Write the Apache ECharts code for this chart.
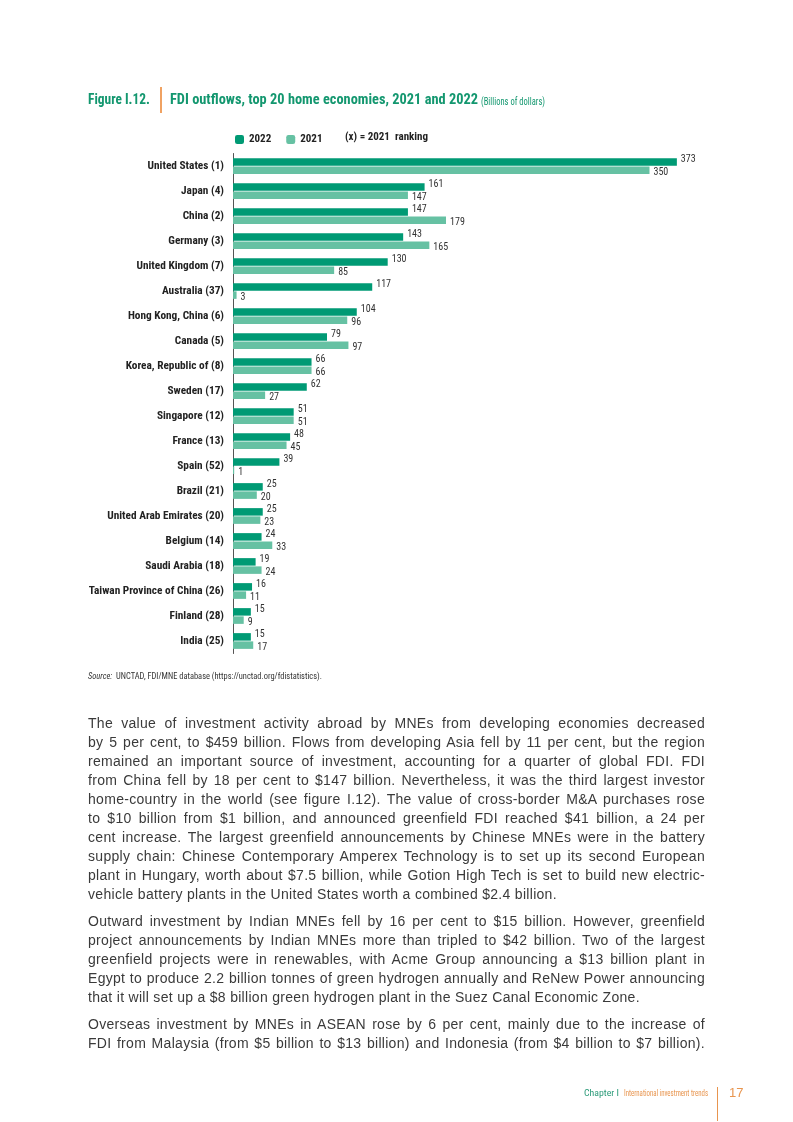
<!DOCTYPE html>
<html>
<head>
<meta charset="utf-8">
<script src="https://cdn.jsdelivr.net/npm/echarts@6/dist/echarts.min.js"></script>
<style>
  html, body { margin: 0; padding: 0; background: #fff; }
  body { width: 793px; height: 1122px; position: relative; overflow: hidden; }
  #chart { position: absolute; left: 0; top: 0; width: 793px; height: 1122px; }
  .narrow { font-family: 'Roboto Condensed', 'Roboto', sans-serif; }
  .abs { position: absolute; white-space: nowrap; transform-origin: 0 50%; }
  #title1 { left: 88px; top: 90px; font-size: 15.5px; font-weight: bold; color: #13976f; }
  #tline { left: 160px; top: 87px; width: 2px; height: 26px; background: #f0a262; }
  #title2 { left: 170px; top: 90px; font-size: 15.5px; font-weight: bold; color: #13976f; }
  #title3 { left: 481px; top: 94px; font-size: 11.5px; color: #13976f; }
  #source { left: 88px; top: 671px; font-size: 9px; color: #333; }
  #body { position: absolute; left: 88px; top: 714px; width: 617px; font-family: 'Liberation Sans', Arial, sans-serif; font-size: 14px; color: #3a3a3a; }
  .ln { height: 19px; line-height: 19px; text-align: justify; text-align-last: justify; white-space: nowrap; }
  .ln.last { text-align-last: left; }
  .para { margin-bottom: 8px; }
  #foot1 { left: 584px; top: 1088px; font-size: 9px; color: #2a9a78; }
  #foot2 { left: 624px; top: 1088px; font-size: 9px; color: #e8954f; }
  #fline { left: 717px; top: 1087px; width: 1px; height: 34px; background: #e8954f; }
  #pnum { left: 729px; top: 1085px; font-size: 13px; color: #e8954f; font-family: 'Liberation Sans', Arial, sans-serif; }
</style>
</head>
<body>
<div id="chart"></div>
<div id="title1" class="abs narrow" data-w="62">Figure I.12.</div>
<div id="tline" class="abs"></div>
<div id="title2" class="abs narrow" data-w="308">FDI outflows, top 20 home economies, 2021 and 2022</div>
<div id="title3" class="abs narrow" data-w="64">(Billions of dollars)</div>
<div id="source" class="abs narrow" data-w="234"><i>Source:</i>&nbsp; UNCTAD, FDI/MNE database (https://unctad.org/fdistatistics).</div>
<div id="body">
  <div class="para">
    <div class="ln">The value of investment activity abroad by MNEs from developing economies decreased</div>
    <div class="ln">by 5 per cent, to $459 billion. Flows from developing Asia fell by 11 per cent, but the region</div>
    <div class="ln">remained an important source of investment, accounting for a quarter of global FDI. FDI</div>
    <div class="ln">from China fell by 18 per cent to $147 billion. Nevertheless, it was the third largest investor</div>
    <div class="ln">home-country in the world (see figure I.12). The value of cross-border M&amp;A purchases rose</div>
    <div class="ln">to $10 billion from $1 billion, and announced greenfield FDI reached $41 billion, a 24 per</div>
    <div class="ln">cent increase. The largest greenfield announcements by Chinese MNEs were in the battery</div>
    <div class="ln">supply chain: Chinese Contemporary Amperex Technology is to set up its second European</div>
    <div class="ln">plant in Hungary, worth about $7.5 billion, while Gotion High Tech is set to build new electric-</div>
    <div class="ln last">vehicle battery plants in the United States worth a combined $2.4 billion.</div>
  </div>
  <div class="para">
    <div class="ln">Outward investment by Indian MNEs fell by 16 per cent to $15 billion. However, greenfield</div>
    <div class="ln">project announcements by Indian MNEs more than tripled to $42 billion. Two of the largest</div>
    <div class="ln">greenfield projects were in renewables, with Acme Group announcing a $13 billion plant in</div>
    <div class="ln">Egypt to produce 2.2 billion tonnes of green hydrogen annually and ReNew Power announcing</div>
    <div class="ln last">that it will set up a $8 billion green hydrogen plant in the Suez Canal Economic Zone.</div>
  </div>
  <div class="para">
    <div class="ln">Overseas investment by MNEs in ASEAN rose by 6 per cent, mainly due to the increase of</div>
    <div class="ln">FDI from Malaysia (from $5 billion to $13 billion) and Indonesia (from $4 billion to $7 billion).</div>
  </div>
</div>
<div id="foot1" class="abs narrow" data-w="35">Chapter I</div>
<div id="foot2" class="abs narrow" data-w="84">International investment trends</div>
<div id="fline" class="abs"></div>
<div id="pnum" class="abs">17</div>
<script>
// fit narrow HTML texts to their measured reference widths
document.querySelectorAll('[data-w]').forEach(function (el) {
  const w = el.getBoundingClientRect().width;
  const target = parseFloat(el.getAttribute('data-w'));
  if (w > 0) el.style.transform = 'scaleX(' + (target / w) + ')';
});
// letter-spacing so that the widest justified line is only slightly stretched
(function () {
  const ctx = document.createElement('canvas').getContext('2d');
  ctx.font = "14px 'Liberation Sans'";
  let best = 0, bestLen = 1;
  document.querySelectorAll('.ln').forEach(function (el) {
    if (el.classList.contains('last')) return;
    const t = el.textContent;
    const w = ctx.measureText(t).width;
    if (w > best) { best = w; bestLen = t.length; }
  });
  const ls = Math.max(0, (612 - best) / bestLen);
  document.getElementById('body').style.letterSpacing = ls.toFixed(3) + 'px';
})();

const categories = [
  'United States (1)', 'Japan (4)', 'China (2)', 'Germany (3)', 'United Kingdom (7)',
  'Australia (37)', 'Hong Kong, China (6)', 'Canada (5)', 'Korea, Republic of (8)', 'Sweden (17)',
  'Singapore (12)', 'France (13)', 'Spain (52)', 'Brazil (21)', 'United Arab Emirates (20)',
  'Belgium (14)', 'Saudi Arabia (18)', 'Taiwan Province of China (26)', 'Finland (28)', 'India (25)'
];
const values2022 = [373, 161, 147, 143, 130, 117, 104, 79, 66, 62, 51, 48, 39, 25, 25, 24, 19, 16, 15, 15];
const values2021 = [350, 147, 179, 165, 85, 3, 96, 97, 66, 27, 51, 45, 1, 20, 23, 33, 24, 11, 9, 17];
const seriesNames = ['2022', '2021'];
const rankingNote = '(x) = 2021  ranking';

const NARROW = "'Roboto Condensed', Roboto, sans-serif";
const C2022 = '#009a74';
const C2021 = '#66c1a3';

const chart = echarts.init(document.getElementById('chart'), null, { renderer: 'canvas', devicePixelRatio: 1 });
chart.setOption({
  animation: false,
  backgroundColor: 'transparent',
  grid: { left: 233, top: 153.5, height: 500, width: 476, containLabel: false },
  legend: {
    data: seriesNames,
    left: 235, top: 134, padding: 0,
    itemWidth: 9, itemHeight: 9, itemGap: 15,
    icon: 'roundRect',
    textStyle: { fontFamily: NARROW, fontSize: 11, fontWeight: 'bold', color: '#222' }
  },
  graphic: [{
    type: 'text', left: 345, top: 132,
    style: { text: rankingNote, font: 'bold 11px ' + NARROW, fill: '#222' }
  }],
  xAxis: { type: 'value', min: 0, max: 400, show: false },
  yAxis: {
    type: 'category', data: categories, inverse: true,
    axisLine: { show: true, lineStyle: { color: '#555', width: 1 } },
    axisTick: { show: false },
    axisLabel: { margin: 9, fontFamily: NARROW, fontSize: 11.3, fontWeight: 'bold', color: '#222' }
  },
  series: [
    {
      name: seriesNames[0], type: 'bar', data: values2022, barWidth: 7.5, barGap: '10%',
      itemStyle: { color: C2022 },
      label: { show: true, position: 'right', distance: 4, offset: [0, -2], fontFamily: NARROW, fontSize: 10, color: '#333' }
    },
    {
      name: seriesNames[1], type: 'bar', data: values2021, barWidth: 7.5, barGap: '10%',
      itemStyle: { color: C2021 },
      label: { show: true, position: 'right', distance: 4, offset: [0, 2], fontFamily: NARROW, fontSize: 10, color: '#333' }
    }
  ]
});
</script>
</body>
</html>
